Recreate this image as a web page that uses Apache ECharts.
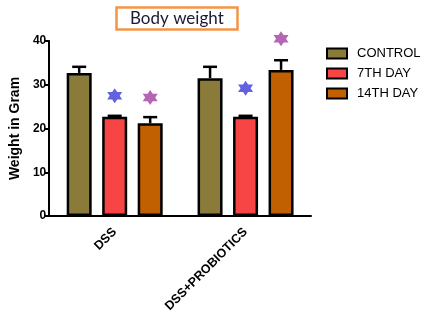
<!DOCTYPE html>
<html>
<head>
<meta charset="utf-8">
<style>
  html, body { margin: 0; padding: 0; background: #fff; }
  #chart { width: 424px; height: 321px; }
</style>
<script src="https://cdn.jsdelivr.net/npm/echarts@6/dist/echarts.min.js"></script>
</head>
<body>
<div id="chart"></div>
<script>
// groups on the x axis
var groups = ['DSS', 'DSS+PROBIOTICS'];
var seriesNames = ['CONTROL', '7TH DAY', '14TH DAY'];

// mean weight (gram)
var controlMean = [32.7, 31.5];
var day7Mean = [22.7, 22.7];
var day14Mean = [21.2, 33.4];

// upper error (SEM)
var controlErr = [1.4, 2.6];
var day7Err = [0.2, 0.2];
var day14Err = [1.4, 2.2];

// significance stars (y position)
var day7Star = [27.5, 29.2];
var day14Star = [27.1, 40.5];

var colors = ['#8b7b3a', '#f74545', '#c06000'];
var barW = 25;
var step = 35.5; // barWidth + gap in px
var starPath = 'path://M0,-10 L2.89,-5 L8.66,-5 L5.77,0 L8.66,5 L2.89,5 L0,10 L-2.89,5 L-8.66,5 L-5.77,0 L-8.66,-5 L-2.89,-5 Z';

var chart = echarts.init(document.getElementById('chart'));

function errSeries(means, errs, offset) {
  return {
    type: 'custom',
    z: 3,
    data: means.map(function (m, i) { return [i, m, errs[i]]; }),
    renderItem: function (params, api) {
      var base = api.coord([api.value(0), api.value(1)]);
      var top = api.coord([api.value(0), api.value(1) + api.value(2)]);
      var x = base[0] + offset;
      var st = { stroke: '#000', lineWidth: 2.5 };
      return {
        type: 'group',
        children: [
          { type: 'line', shape: { x1: x, y1: base[1], x2: x, y2: top[1] }, style: st },
          { type: 'line', shape: { x1: x - 7, y1: top[1], x2: x + 7, y2: top[1] }, style: st }
        ]
      };
    }
  };
}

function barSeries(name, data, color) {
  return {
    name: name,
    type: 'bar',
    data: data,
    barWidth: barW,
    barGap: '42%',
    itemStyle: { color: color, borderColor: '#000', borderWidth: 2.5 }
  };
}

function starSeries(data, color, offset) {
  return {
    type: 'scatter',
    data: data,
    symbol: starPath,
    symbolSize: 15,
    symbolOffset: [offset, 0],
    clip: false,
    itemStyle: { color: color },
    z: 4
  };
}

var option = {
  animation: false,
  title: {
    text: 'Body weight',
    left: 116,
    top: 7,
    padding: [3, 14, 3, 14],
    borderColor: '#f29545',
    borderWidth: 2.5,
    textStyle: { fontFamily: 'Lato', fontSize: 17, fontWeight: 'normal', color: '#1a1a30' }
  },
  legend: {
    data: seriesNames,
    orient: 'vertical',
    left: 321,
    top: 42,
    itemWidth: 20,
    itemHeight: 10,
    itemGap: 7,
    icon: 'rect',
    textStyle: { fontFamily: 'Liberation Sans', fontSize: 13, color: '#000', padding: [0, 0, 0, 5] }
  },
  grid: { left: 47, right: 113, top: 41, bottom: 105, containLabel: false },
  xAxis: {
    type: 'category',
    data: groups,
    axisLine: { lineStyle: { color: '#000', width: 2 } },
    axisTick: { alignWithLabel: true, length: 5, lineStyle: { color: '#000', width: 1.5 } },
    axisLabel: { rotate: 45, margin: 14, color: '#000', fontFamily: 'Liberation Sans', fontWeight: 'bold', fontSize: 12.5 }
  },
  yAxis: {
    type: 'value',
    min: 0,
    max: 40,
    interval: 10,
    name: 'Weight in Gram',
    nameLocation: 'middle',
    nameGap: 24,
    nameTextStyle: { fontFamily: 'Liberation Sans', fontWeight: 'bold', fontSize: 14, color: '#000' },
    axisLine: { show: true, lineStyle: { color: '#000', width: 2 } },
    axisTick: { show: true, length: 5, lineStyle: { color: '#000', width: 2 } },
    splitLine: { show: false },
    axisLabel: { margin: 3, color: '#000', fontFamily: 'Liberation Sans', fontWeight: 'bold', fontSize: 12 }
  },
  series: [
    barSeries(seriesNames[0], controlMean, colors[0]),
    barSeries(seriesNames[1], day7Mean, colors[1]),
    barSeries(seriesNames[2], day14Mean, colors[2]),
    errSeries(controlMean, controlErr, -step),
    errSeries(day7Mean, day7Err, 0),
    errSeries(day14Mean, day14Err, step),
    starSeries(day7Star, '#3b3bd8', 0),
    starSeries(day14Star, '#a43fa4', step)
  ]
};

chart.setOption(option);
</script>
</body>
</html>
